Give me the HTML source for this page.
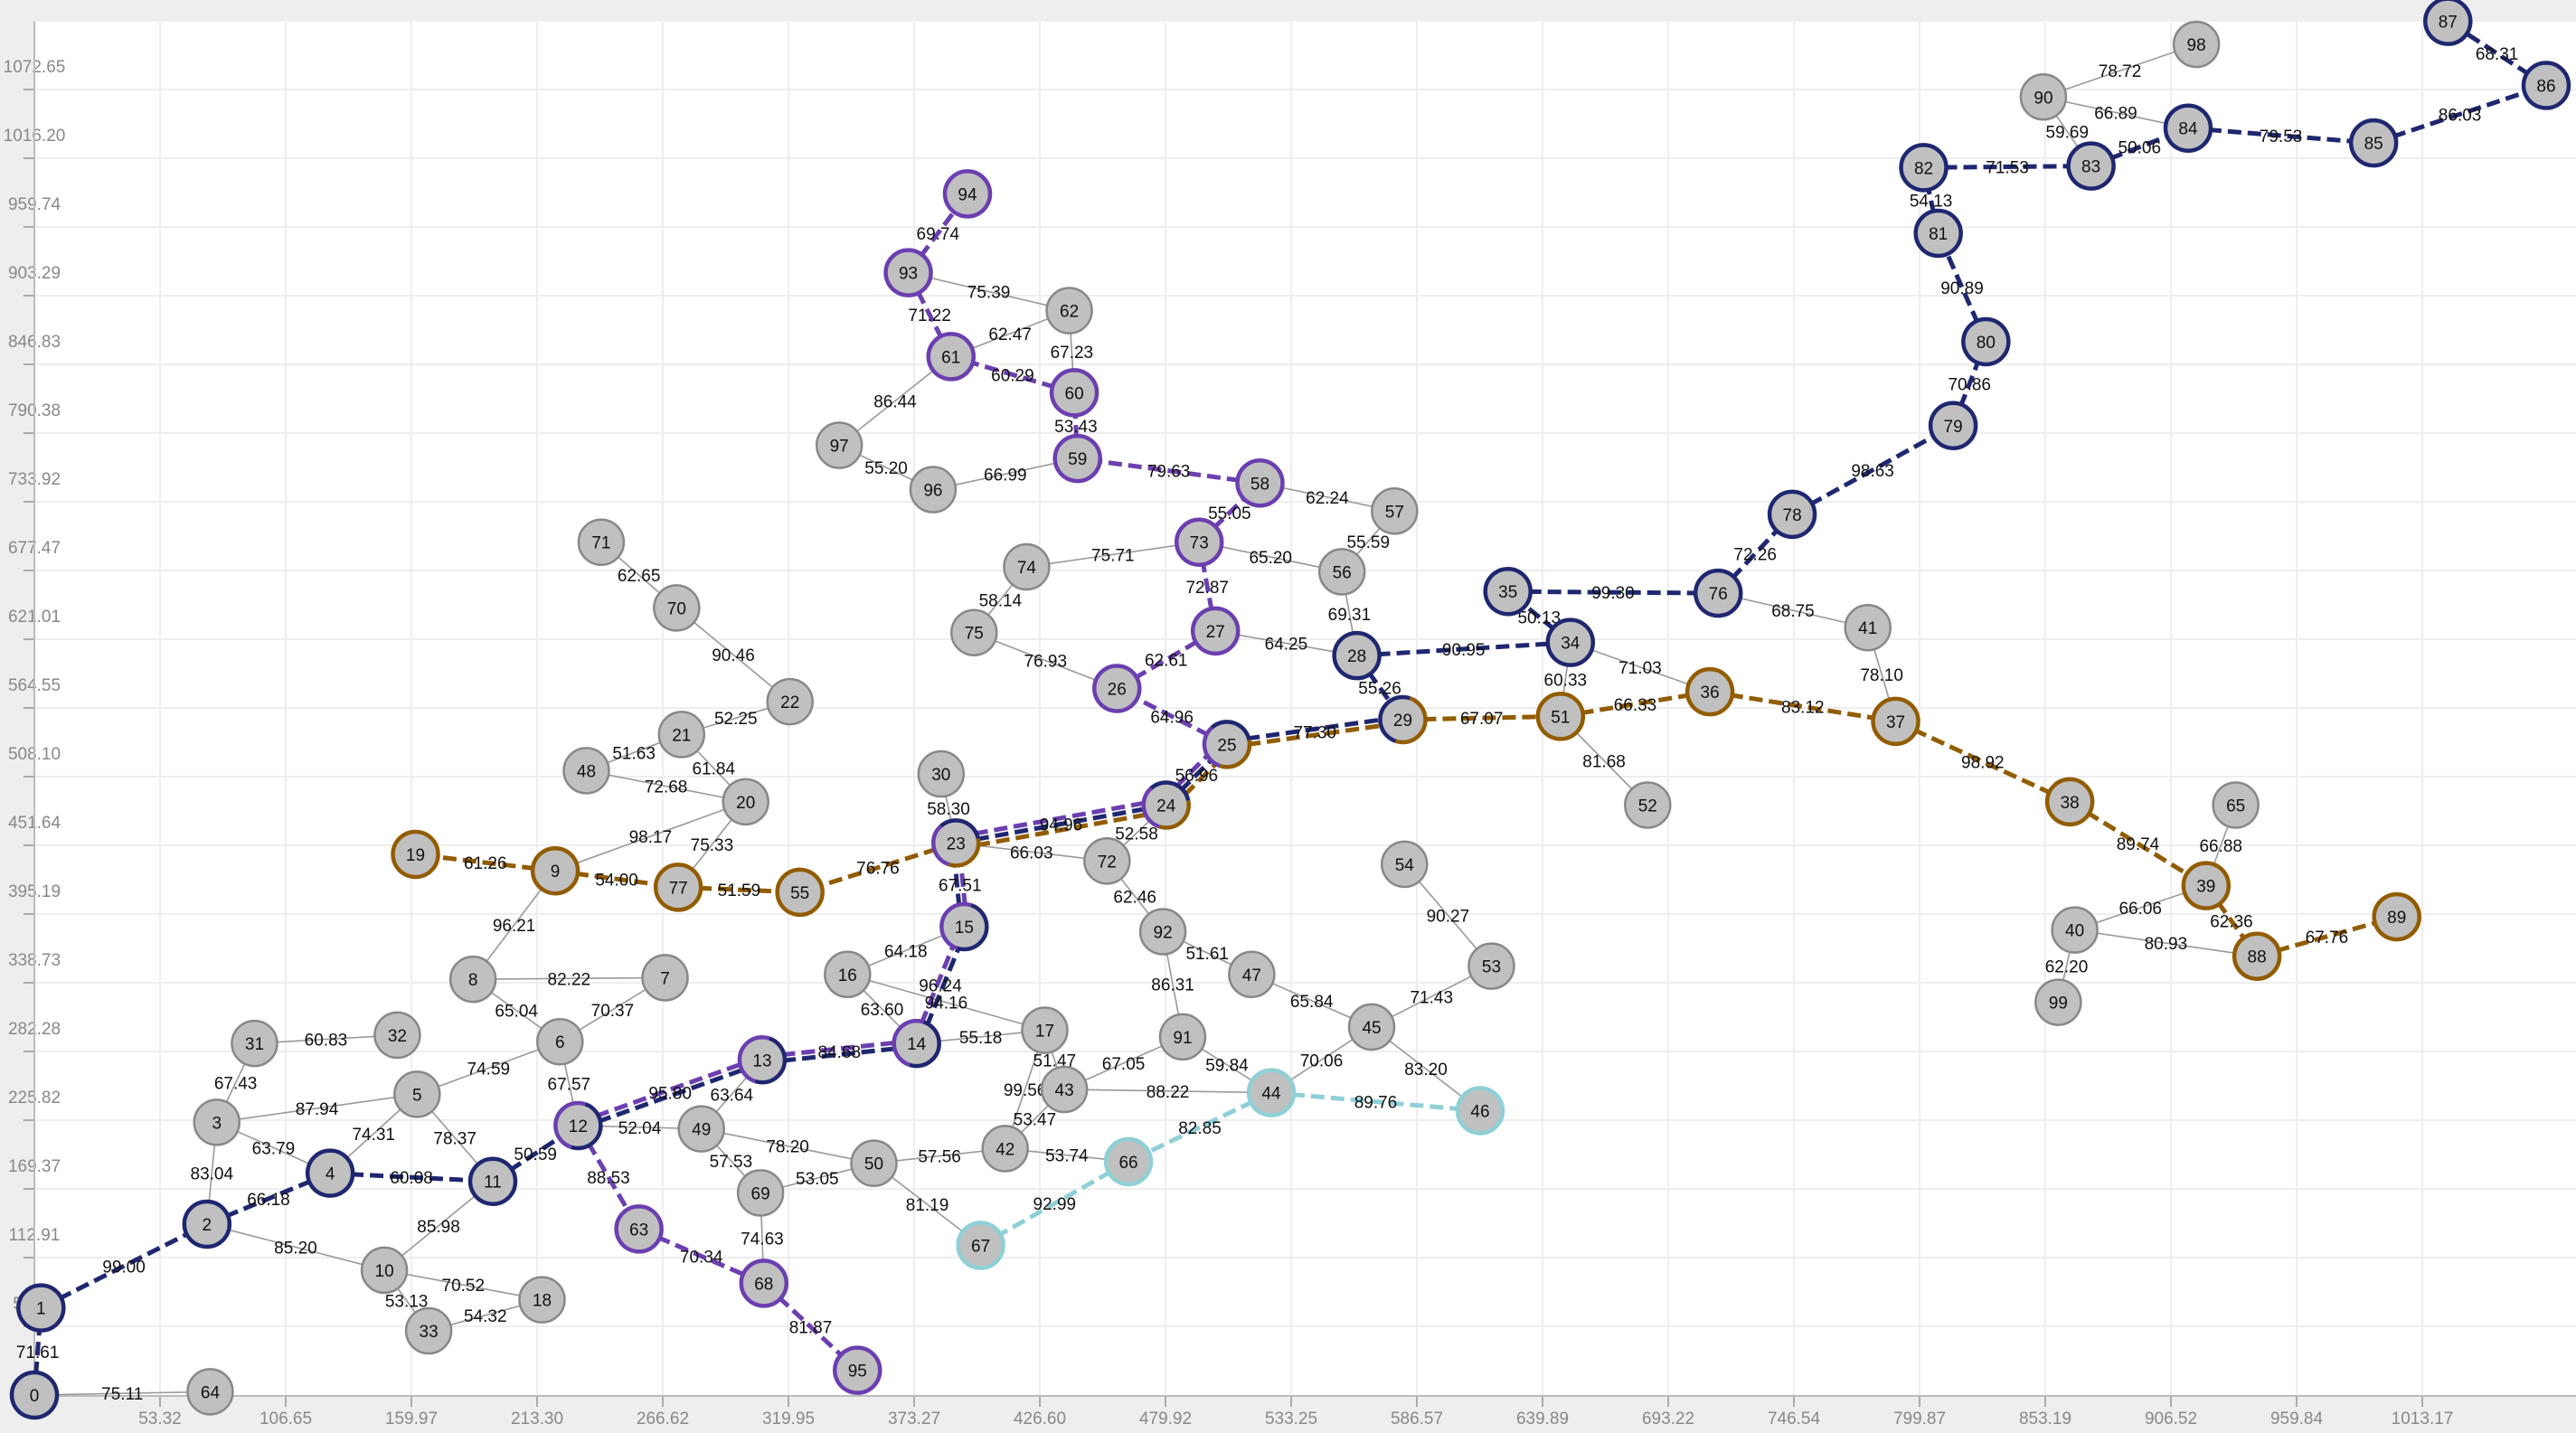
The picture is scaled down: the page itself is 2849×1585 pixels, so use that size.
<!DOCTYPE html>
<html><head><meta charset="utf-8"><style>
html,body{margin:0;padding:0;background:#eeeeee;}
svg{display:block;font-family:"Liberation Sans",sans-serif;}
</style></head><body>
<svg id="chart" width="2849" height="1585" viewBox="0 0 2849 1585" xmlns="http://www.w3.org/2000/svg">
<rect x="0" y="0" width="2849" height="1585" fill="#eeeeee"/>
<rect x="38" y="24" width="2811" height="1520" fill="#ffffff"/>
<g id="grid"></g>
<g id="edges"></g>
<g id="elabels"></g>
<g id="nodes"></g>
</svg>
<script>
const xTicks=[53.32,106.65,159.97,213.30,266.62,319.95,373.27,426.60,479.92,533.25,586.57,639.89,693.22,746.54,799.87,853.19,906.52,959.84,1013.17];
const yTicks=[56.46,112.91,169.37,225.82,282.28,338.73,395.19,451.64,508.10,564.55,621.01,677.47,733.92,790.38,846.83,903.29,959.74,1016.20,1072.65];
const nodeX=[0,2.8,73.2,77.4,125.5,162.4,223.0,267.6,186.1,221.0,148.5,194.5,230.7,308.8,374.3,394.5,345.0,428.7,215.4,161.7,301.8,274.6,320.6,391.0,480.2,506.0,459.3,501.1,561.1,580.6,384.7,93.4,154.0,167.3,651.7,625.2,710.9,789.7,863.6,921.4,865.7,777.9,411.9,437.0,524.8,567.4,613.4,516.5,234.2,283.0,356.2,647.5,684.5,618.2,581.3,324.8,554.8,577.1,520.0,442.6,441.2,388.9,439.1,256.5,74.6,934.0,464.2,401.5,309.5,308.1,272.5,240.5,455.1,494.2,421.0,398.7,714.4,273.2,745.8,814.1,828.0,807.8,801.6,872.6,913.8,992.5,1065.7,1024.0,943.0,1002.3,852.4,487.2,478.8,370.8,395.9,349.2,381.3,341.5,917.3,858.7];
const nodeY=[0,71.6,140.4,224.1,182.3,247.1,290.3,342.9,341.6,430.7,102.6,175.5,221.4,275.4,288.9,384.8,345.6,299.7,78.3,444.2,487.4,542.7,569.7,453.6,484.7,534.6,580.5,627.8,607.5,554.9,510.3,288.9,295.7,52.7,618.3,660.2,577.8,553.5,487.4,418.5,382.1,630.5,202.5,251.1,248.4,302.4,233.6,345.6,513.0,218.7,190.4,557.6,484.7,352.4,436.1,413.1,676.4,726.3,749.3,769.5,823.5,853.2,891.0,136.4,2.7,484.7,191.7,122.9,91.8,166.1,646.7,700.7,438.8,700.7,680.4,626.4,658.8,417.2,723.6,796.5,865.4,954.5,1008.5,1009.8,1040.9,1028.7,1076.0,1128.6,360.5,392.9,1066.5,294.3,380.7,922.1,986.9,20.3,743.9,780.3,1109.7,322.7];
const edgePairs=[
"0-1","0-64","1-2","2-4","2-10","2-3","3-4","3-5","3-31","4-5",
"4-11","5-6","5-11","6-7","6-8","6-12","8-9","7-8","9-19","9-77",
"9-20","10-11","10-18","10-33","11-12","12-13","12-49","12-63","13-14","13-49",
"14-15","14-16","14-17","15-16","16-17","17-43","17-42","42-43","18-33","20-21",
"20-48","20-77","21-48","21-22","22-70","70-71","23-24","23-30","23-55","23-72",
"24-25","24-72","25-26","25-29","26-27","26-75","27-73","27-28","28-29","28-56",
"28-34","29-51","51-36","36-37","37-38","38-39","39-88","88-89","39-65","39-40",
"40-88","40-99","37-41","41-76","51-52","51-34","34-36","34-35","35-76","76-78",
"78-79","79-80","80-81","81-82","82-83","83-84","83-90","84-90","90-98","84-85",
"85-86","86-87","53-54","53-45","45-47","45-44","45-46","44-46","44-43","44-91",
"44-66","66-67","66-42","42-50","50-67","50-49","50-69","49-69","91-43","91-92",
"92-47","92-72","63-68","68-95","68-69","73-74","74-75","73-56","73-58","58-57",
"56-57","58-59","59-60","59-96","96-97","97-61","60-61","60-62","61-62","61-93",
"93-62","93-94","77-55","31-32","15-23"];
const edgeWeight=[
"71.61","75.11","99.00","66.18","85.20","83.04","63.79","87.94","67.43","74.31",
"60.08","74.59","78.37","70.37","65.04","67.57","96.21","82.22","61.26","54.00",
"98.17","85.98","70.52","53.13","50.59","95.80","52.04","88.53","84.68","63.64",
"96.24","63.60","55.18","64.18","94.16","51.47","99.56","53.47","54.32","61.84",
"72.68","75.33","51.63","52.25","90.46","62.65","94.96","58.30","76.76","66.03",
"56.96","52.58","64.96","77.30","62.61","76.93","72.87","64.25","55.26","69.31",
"90.95","67.07","66.33","83.12","98.92","89.74","62.36","67.76","66.88","66.06",
"80.93","62.20","78.10","68.75","81.68","60.33","71.03","50.13","99.30","72.26",
"98.63","70.86","90.89","54.13","71.53","50.06","59.69","66.89","78.72","79.53",
"86.03","68.31","90.27","71.43","65.84","70.06","83.20","89.76","88.22","59.84",
"82.85","92.99","53.74","57.56","81.19","78.20","53.05","57.53","67.05","86.31",
"51.61","62.46","70.34","81.87","74.63","75.71","58.14","65.20","55.05","62.24",
"55.59","79.63","53.43","66.99","55.20","86.44","60.29","67.23","62.47","71.22",
"75.39","69.74","51.59","60.83","67.51"];
const purpleRoute=[95,68,63,12,13,14,15,23,24,25,26,27,73,58,59,60,61,93,94];
const navyRoute=[0,1,2,4,11,12,13,14,15,23,24,25,29,28,34,35,76,78,79,80,81,82,83,84,85,86,87];
const orangeRoute=[19,9,77,55,23,24,25,29,51,36,37,38,39,88,89];
const cyanRoute=[67,66,44,46];
const routes=[["p",purpleRoute],["n",navyRoute],["o",orangeRoute],["c",cyanRoute]];
const routeColor={n:"#1f2770",p:"#6b3fb0",o:"#925c00",c:"#8fd0d6"};
const X=v=>38+v*2.6067, Y=v=>1543-v*1.3462;
const NS="http://www.w3.org/2000/svg";
function mk(tag,attrs,parent){const e=document.createElementNS(NS,tag);for(const k in attrs)e.setAttribute(k,attrs[k]);parent.appendChild(e);return e;}
const grid=document.getElementById('grid');
xTicks.forEach(t=>{
  const x=X(t);
  const gl=mk('line',{x1:x,y1:24,x2:x,y2:1544,stroke:'#eeeeee','stroke-width':2},grid);
  
  
  const tk=mk('line',{x1:x,y1:1544,x2:x,y2:1556,stroke:'#aaaaaa','stroke-width':2},grid);
  
  
  const tx=mk('text',{x:x,y:1575,'text-anchor':'middle','font-size':19,fill:'#888888'},grid);
  tx.textContent=t.toFixed(2);
  
  
});
yTicks.forEach(t=>{
  const y=Y(t);
  const gl=mk('line',{x1:38,y1:y,x2:2849,y2:y,stroke:'#eeeeee','stroke-width':2},grid);
  
  
  const tk=mk('line',{x1:26,y1:y,x2:38,y2:y,stroke:'#aaaaaa','stroke-width':2},grid);
  
  
  const tx=mk('text',{x:38,y:y-19,'text-anchor':'middle','font-size':19,fill:'#888888'},grid);
  tx.textContent=t.toFixed(2);
  
  
});
const ax=mk('line',{x1:38,y1:24,x2:38,y2:1544,stroke:'#bbbbbb','stroke-width':2},grid);


const bx=mk('line',{x1:38,y1:1544,x2:2849,y2:1544,stroke:'#bbbbbb','stroke-width':2},grid);



const key=(a,b)=>a<b?a+'-'+b:b+'-'+a;
const edgeRouteMap={};
const nodeRoutes=nodeX.map(()=>[]);
routes.forEach(([c,path])=>{
  for(let i=0;i<path.length-1;i++){
    const k=key(path[i],path[i+1]);
    (edgeRouteMap[k]=edgeRouteMap[k]||[]).push(c);
  }
  path.forEach(n=>{if(!nodeRoutes[n].includes(c))nodeRoutes[n].push(c);});
});
const eg=document.getElementById('edges'), lg=document.getElementById('elabels');
const parsed=edgePairs.map(s=>s.split('-').map(Number));
parsed.forEach(([a,b])=>{
  if(edgeRouteMap[key(a,b)])return;
  const l=mk('line',{x1:X(nodeX[a]),y1:Y(nodeY[a]),x2:X(nodeX[b]),y2:Y(nodeY[b]),stroke:'#999999','stroke-width':1.6},eg);
  
  
});
parsed.forEach(([a,b],i)=>{
  const x1=X(nodeX[a]),y1=Y(nodeY[a]),x2=X(nodeX[b]),y2=Y(nodeY[b]);
  const r=edgeRouteMap[key(a,b)];
  if(r){
    const len=Math.hypot(x2-x1,y2-y1)||1;
    let nx=-(y2-y1)/len, ny=(x2-x1)/len;
    if(ny>0||(ny===0&&nx>0)){nx=-nx;ny=-ny;}
    const k=r.length;
    r.forEach((c,j)=>{
      const off=((k-1)/2-j)*6.5;
      const l=mk('line',{x1:x1+nx*off,y1:y1+ny*off,x2:x2+nx*off,y2:y2+ny*off,stroke:routeColor[c],'stroke-width':5,'stroke-dasharray':'15 7'},eg);
      
      
    });
  }
  const t=mk('text',{x:(x1+x2)/2,y:(y1+y2)/2+7,'text-anchor':'middle','font-size':19,fill:'#111111'},lg);
  t.textContent=edgeWeight[i];
  
  
});
const ng=document.getElementById('nodes');
const R=25;
nodeX.forEach((v,i)=>{
  const cx=X(v), cy=Y(nodeY[i]);
  const g=mk('g',{},ng);
  
  
  const rs=nodeRoutes[i];
  mk('circle',{cx,cy,r:R,fill:'#c0c0c0',stroke:rs.length?'none':'#888888','stroke-width':2.5},g);
  if(rs.length){
    const C=2*Math.PI*R, seg=C/rs.length;
    rs.forEach((c,j)=>{
      mk('circle',{cx,cy,r:R,fill:'none',stroke:routeColor[c],'stroke-width':4.5,
        'stroke-dasharray':seg+' '+(C-seg),'stroke-dashoffset':-(seg*j+C*0.3)},g);
    });
  }
  const t=mk('text',{x:cx,y:cy+7,'text-anchor':'middle','font-size':19,fill:'#111111'},g);
  t.textContent=String(i);
});
</script>
</body></html>
